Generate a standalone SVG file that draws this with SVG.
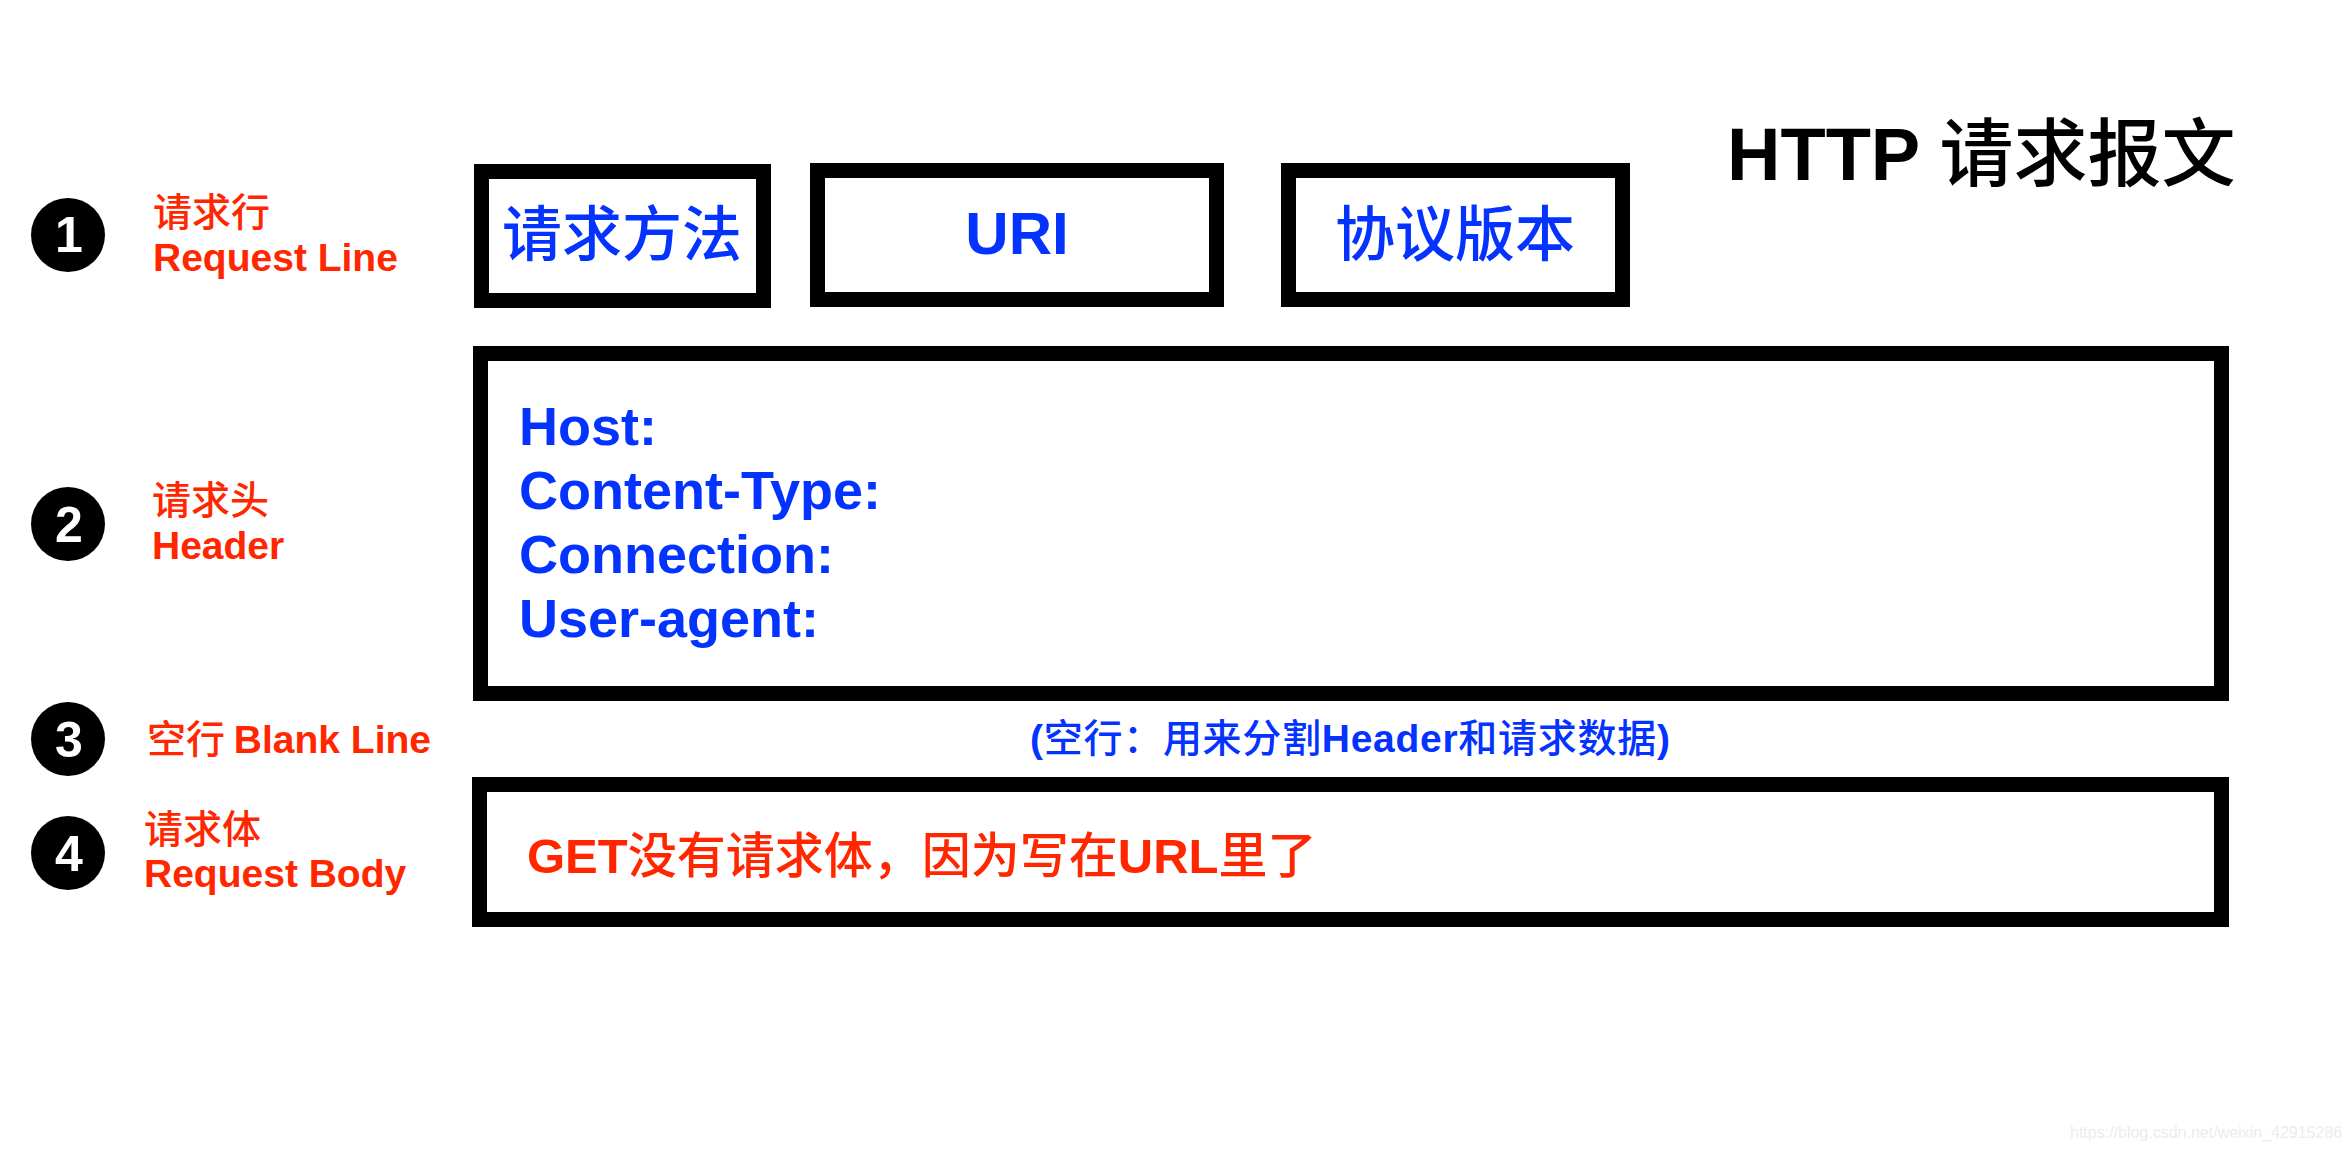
<svg xmlns="http://www.w3.org/2000/svg" width="2350" height="1152" viewBox="0 0 2350 1152">
<style>
.box{fill:#fff;stroke:#000;stroke-width:15}
.lat{font-family:"Liberation Sans",Arial,"Noto Sans CJK SC",sans-serif;font-weight:bold}
.cjk{font-family:"Noto Sans CJK SC","Liberation Sans",sans-serif;font-weight:500}
.red{fill:#FF2600}
.blue{fill:#0433FF}
.num{fill:#000}
.digit{fill:#fff;font-family:"Liberation Sans",Arial,sans-serif;font-weight:bold;font-size:50px;text-anchor:middle}
.lbl{font-size:39px}
.hdr{font-size:54px}
</style>
<rect width="2350" height="1152" fill="#fff"/>
<g id="title">
<text x="1727" y="180" font-size="74"><tspan class="lat">HTTP </tspan><tspan class="cjk">请求报文</tspan></text>
</g>
<g id="step1">
<circle class="num" cx="68" cy="235" r="37"/>
<text class="digit" x="69" y="252">1</text>
<text class="cjk red lbl" x="153" y="226">请求行</text>
<text class="lat red lbl" x="153" y="271">Request Line</text>
</g>
<g id="step2">
<circle class="num" cx="68" cy="524" r="37"/>
<text class="digit" x="69" y="542">2</text>
<text class="cjk red lbl" x="152" y="514">请求头</text>
<text class="lat red lbl" x="152" y="559">Header</text>
</g>
<g id="step3">
<circle class="num" cx="68" cy="739" r="37"/>
<text class="digit" x="69" y="757">3</text>
<text class="red lbl" x="147" y="753"><tspan class="cjk">空行 </tspan><tspan class="lat">Blank Line</tspan></text>
</g>
<g id="step4">
<circle class="num" cx="68" cy="853" r="37"/>
<text class="digit" x="69" y="871">4</text>
<text class="cjk red lbl" x="144" y="843">请求体</text>
<text class="lat red lbl" x="144" y="887">Request Body</text>
</g>
<g id="method">
<rect class="box" x="481.5" y="171.5" width="282" height="129"/>
<text class="cjk blue" x="622" y="256" font-size="60" text-anchor="middle">请求方法</text>
</g>
<g id="uri">
<rect class="box" x="817.5" y="170.5" width="399" height="129"/>
<text class="lat blue" x="1017" y="254" font-size="60" text-anchor="middle">URI</text>
</g>
<g id="version">
<rect class="box" x="1288.5" y="170.5" width="334" height="129"/>
<text class="cjk blue" x="1455" y="256" font-size="60" text-anchor="middle">协议版本</text>
</g>
<g id="header">
<rect class="box" x="480.5" y="353.5" width="1741" height="340"/>
<text class="lat blue hdr" x="519" y="445">Host:</text>
<text class="lat blue hdr" x="519" y="509">Content-Type:</text>
<text class="lat blue hdr" x="519" y="573">Connection:</text>
<text class="lat blue hdr" x="519" y="637">User-agent:</text>
</g>
<g id="blank-line">
<text class="blue" x="1030" y="752" font-size="39" textLength="640" lengthAdjust="spacing"><tspan class="lat">(</tspan><tspan class="cjk">空行：用来分割</tspan><tspan class="lat">Header</tspan><tspan class="cjk">和请求数据</tspan><tspan class="lat">)</tspan></text>
</g>
<g id="body">
<rect class="box" x="479.5" y="784.5" width="1742" height="135"/>
<text class="red" x="527" y="873" font-size="49"><tspan class="lat">GET</tspan><tspan class="cjk">没有请求体，因为写在</tspan><tspan class="lat">URL</tspan><tspan class="cjk">里了</tspan></text>
</g>
<g id="watermark">
<text x="2070" y="1138" font-size="16" fill="#ececec" font-family="'Liberation Sans',Arial,sans-serif">https://blog.csdn.net/weixin_42915286</text>
</g>
</svg>
